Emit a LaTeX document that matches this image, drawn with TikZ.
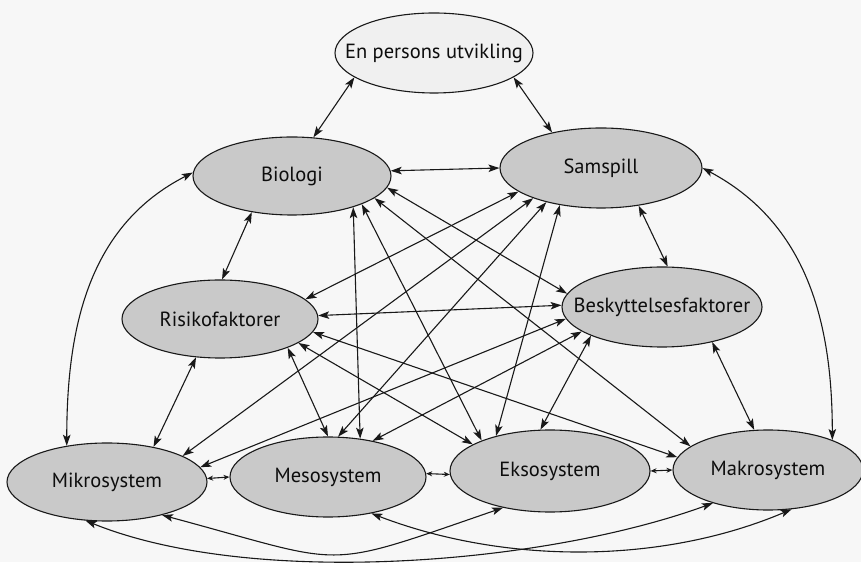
\documentclass[tikz,border=0pt]{standalone}
\usepackage{fontspec}
\setmainfont{PT Sans}
\usetikzlibrary{arrows.meta,shapes.geometric}
\newcommand\zt[1]{\makebox[0pt]{#1}}
\begin{document}
\begin{tikzpicture}[x=1pt,y=1pt,
  ell/.style={ellipse, draw=black!90, line width=1.1pt, fill=black!21, inner sep=0pt,
    font=\fontsize{20.5}{22}\selectfont, text=black!95},
  link/.style={line width=1.1pt, draw=black!90,
    {Stealth[length=11pt,width=7.5pt,inset=2.5pt]}-{Stealth[length=11pt,width=7.5pt,inset=2.5pt]}},
  shortlink/.style={line width=1.1pt, draw=black!90,
    {Stealth[length=6pt,width=5pt]}-{Stealth[length=6pt,width=5pt]}},
]
\fill[black!3] (0,0) rectangle (861,562);
\useasboundingbox (0,0) rectangle (861,562);

\node[ell, fill=black!6, minimum width=198pt, minimum height=80pt] (ep) at (434,509) {\zt{En persons utvikling}};
\node[ell, minimum width=198pt, minimum height=78pt] (bio) at (292,386) {\zt{Biologi}};
\node[ell, minimum width=202pt, minimum height=80pt] (sam) at (601,394) {\zt{Samspill}};
\node[ell, minimum width=196pt, minimum height=78pt] (risk) at (220,243) {\zt{Risikofaktorer}};
\node[ell, minimum width=200pt, minimum height=80pt] (besk) at (662,255) {\zt{Beskyttelsesfaktorer}};
\node[ell, minimum width=200pt, minimum height=78pt] (mikro) at (107,80) {\zt{Mikrosystem}};
\node[ell, minimum width=196pt, minimum height=80pt] (meso) at (328,85) {\zt{Mesosystem}};
\node[ell, minimum width=200pt, minimum height=82pt] (ekso) at (550,91) {\zt{Eksosystem}};
\node[ell, minimum width=190pt, minimum height=80pt] (makro) at (768,92) {\zt{Makrosystem}};

% top level
\draw[link] (ep.-163) -- (bio.61);
\draw[link] (ep.-17) -- (sam.144);
\draw[link] (bio.3) -- (sam.180);
\draw[link] (bio.-138) -- (risk.87);
\draw[link] (sam.-45) -- (besk.82);
\draw[link] (risk.2) -- (besk.179);
\draw[link] (risk.-122) -- (mikro.37);
\draw[link] (besk.-35) -- (makro.109);
% bottom row neighbours
\draw[shortlink] (mikro.2) -- (meso.180);
\draw[shortlink] (meso.2) -- (ekso.-178);
\draw[shortlink] (ekso.0) -- (makro.180);
% side arcs
\draw[link] (bio.178) to[out=207,in=90] (mikro.138);
\draw[link] (sam.0) to[out=-28,in=90] (makro.25);
% crossings
\draw[link] (bio.-7) -- (besk.172);
\draw[link] (bio.-15) -- (makro.163);
\draw[link] (bio.-22) -- (ekso.156);
\draw[link] (bio.-27) -- (meso.50);
\draw[link] (sam.-164) -- (risk.13);
\draw[link] (sam.-156) -- (mikro.19);
\draw[link] (sam.-148) -- (meso.76);
\draw[link] (sam.-138) -- (ekso.147);
\draw[link] (besk.-173) -- (mikro.9);
\draw[link] (besk.-163) -- (meso.39);
\draw[link] (besk.-158) -- (ekso.103);
\draw[link] (risk.-23) -- (meso.90);
\draw[link] (risk.-17) -- (ekso.161);
\draw[link] (risk.-8) -- (makro.172);
% bottom curves
\draw[link] (mikro.-119) to[out=-22,in=200,distance=180pt] (makro.-149);
\draw[link] (mikro.-31) to[out=-15,in=199,distance=196pt] (ekso.-142);
\draw[link] (meso.-40) to[out=-21,in=203,distance=142pt] (makro.-59);
\end{tikzpicture}
\end{document}
